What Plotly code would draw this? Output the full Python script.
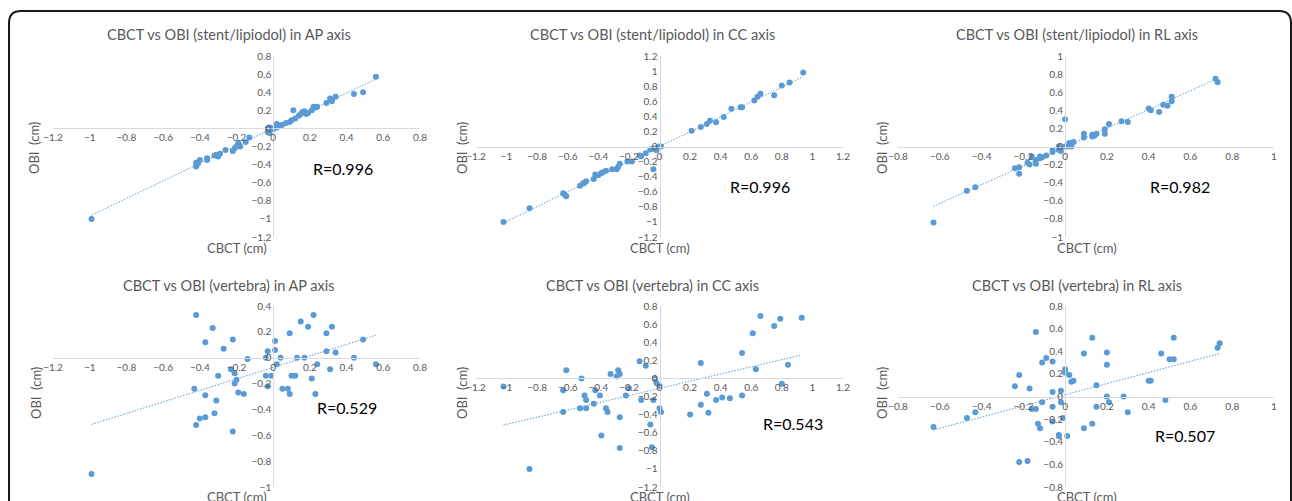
import numpy as np
import plotly.graph_objects as go

W, H = 1292, 501

# ---------------- data (cm) ----------------
ap_stent_x = [0.56, 0.49, 0.44, 0.34, 0.32, 0.31, 0.32, 0.29, 0.24, 0.22, 0.23, 0.21, 0.19, 0.18,
              0.16, 0.17, 0.15, 0.14, 0.11, 0.12, 0.10, 0.09, 0.07, 0.05, 0.04, 0.02, 0.02, 0.00,
              -0.02, -0.03, -0.03, -0.02, 0.00, -0.13, -0.15, -0.18, -0.19, -0.20, -0.21, -0.19,
              -0.22, -0.26, -0.29, -0.30, -0.32, -0.31, -0.36, -0.36, -0.40, -0.42, -0.42, -0.41, -0.99]
ap_stent_y = [0.57, 0.40, 0.38, 0.35, 0.31, 0.33, 0.30, 0.28, 0.24, 0.24, 0.23, 0.20, 0.17, 0.16,
              0.18, 0.19, 0.16, 0.14, 0.20, 0.11, 0.09, 0.07, 0.06, 0.04, 0.03, 0.05, 0.01, 0.00,
              0.01, 0.00, -0.04, -0.05, -0.01, -0.10, -0.15, -0.20, -0.17, -0.20, -0.22, -0.16,
              -0.25, -0.24, -0.28, -0.31, -0.30, -0.29, -0.33, -0.35, -0.35, -0.38, -0.42, -0.39, -1.00]

cc_stent_x = [0.94, 0.85, 0.80, 0.75, 0.66, 0.64, 0.62, 0.54, 0.53, 0.47, 0.42, 0.37, 0.33, 0.31,
              0.27, 0.21, 0.01, 0.00, -0.02, -0.02, -0.04, -0.06, -0.04, -0.09, -0.12, -0.13,
              -0.18, -0.21, -0.26, -0.27, -0.28, -0.31, -0.35, -0.37, -0.38, -0.40, -0.42, -0.43,
              -0.48, -0.49, -0.50, -0.52, -0.63, -0.61, -0.62, -0.85, -1.02]
cc_stent_y = [0.98, 0.85, 0.81, 0.68, 0.70, 0.66, 0.61, 0.52, 0.52, 0.50, 0.39, 0.32, 0.34, 0.30,
              0.26, 0.21, 0.00, 0.00, -0.02, -0.05, -0.03, -0.04, -0.30, -0.09, -0.13, -0.12,
              -0.20, -0.20, -0.23, -0.27, -0.30, -0.30, -0.32, -0.34, -0.35, -0.38, -0.37, -0.43,
              -0.46, -0.48, -0.49, -0.52, -0.62, -0.66, -0.64, -0.82, -1.00]

rl_stent_x = [0.72, 0.73, 0.51, 0.51, 0.47, 0.49, 0.45, 0.40, 0.41, 0.27, 0.30, 0.21, 0.19, 0.19,
              0.15, 0.13, 0.13, 0.14, 0.09, 0.09, 0.00, 0.04, 0.02, 0.03, 0.01, 0.00, -0.03, -0.03,
              -0.02, -0.06, -0.06, -0.09, -0.11, -0.12, -0.12, -0.14, -0.14, -0.16, -0.17, -0.18,
              -0.22, -0.24, -0.22, -0.43, -0.47, -0.63]
rl_stent_y = [0.75, 0.71, 0.55, 0.50, 0.46, 0.45, 0.38, 0.42, 0.40, 0.28, 0.27, 0.25, 0.19, 0.14,
              0.14, 0.13, 0.11, 0.12, 0.14, 0.10, 0.30, 0.05, 0.04, 0.00, 0.00, 0.00, 0.00, -0.04,
              -0.05, -0.04, -0.06, -0.10, -0.12, -0.11, -0.13, -0.15, -0.19, -0.11, -0.20, -0.18,
              -0.23, -0.24, -0.30, -0.45, -0.49, -0.84]

ap_vert_x = [-0.42, -0.33, -0.37, -0.22, -0.27, -0.14, -0.23, -0.21, -0.30, -0.20, -0.21, -0.19,
             -0.16, -0.43, -0.37, -0.31, -0.32, -0.37, -0.40, -0.42, -0.22, -0.99, -0.04, -0.03,
             -0.04, -0.03, -0.01, 0.01, 0.01, 0.02, 0.04, 0.05, 0.08, 0.09, 0.09, 0.10, 0.12, 0.13,
             0.17, 0.15, 0.19, 0.22, 0.21, 0.23, 0.24, 0.29, 0.29, 0.32, 0.31, 0.34, 0.44, 0.49, 0.56]
ap_vert_y = [0.33, 0.23, 0.12, 0.14, 0.07, -0.01, -0.09, -0.12, -0.14, -0.17, -0.20, -0.27,
             -0.28, -0.24, -0.29, -0.33, -0.43, -0.46, -0.47, -0.52, -0.57, -0.90, 0.00, 0.05,
             -0.14, -0.22, -0.14, 0.13, 0.06, -0.05, 0.00, -0.24, -0.24, -0.28, 0.19, -0.14, -0.14,
             0.00, 0.00, 0.28, 0.24, 0.33, -0.16, -0.28, -0.05, 0.19, 0.05, 0.24, -0.09, 0.04,
             0.00, 0.14, -0.05]

cc_vert_x = [-1.02, -0.85, -0.61, -0.63, -0.63, -0.51, -0.49, -0.48, -0.52, -0.48, -0.43, -0.42,
             -0.39, -0.38, -0.35, -0.34, -0.32, -0.27, -0.28, -0.26, -0.26, -0.26, -0.22, -0.20,
             -0.13, -0.09, -0.12, -0.06, -0.05, -0.04, -0.03, -0.02, 0.00, 0.00, 0.01, 0.20, 0.27,
             0.27, 0.31, 0.32, 0.37, 0.41, 0.46, 0.54, 0.54, 0.61, 0.63, 0.66, 0.75, 0.79, 0.80,
             0.84, 0.93]
cc_vert_y = [-0.09, -1.00, 0.09, -0.13, -0.37, 0.00, -0.19, -0.24, -0.33, -0.33, -0.28, -0.13,
             -0.19, -0.63, -0.33, -0.37, 0.05, 0.09, 0.02, 0.05, -0.43, -0.77, -0.19, -0.11,
             0.19, 0.14, -0.24, -0.51, -0.76, -0.24, 0.00, -0.05, -0.08, -0.33, -0.37, -0.40,
             0.17, -0.29, -0.17, -0.38, -0.24, -0.21, -0.22, 0.28, -0.19, 0.50, 0.10, 0.69, 0.58,
             0.66, -0.06, 0.15, 0.67]

rl_vert_x = [-0.63, -0.47, -0.43, -0.24, -0.22, -0.17, -0.16, -0.14, -0.22, -0.18, -0.14, -0.11,
             -0.09, -0.06, -0.11, -0.13, -0.12, -0.06, -0.06, -0.06, -0.03, -0.03, 0.01, -0.02,
             -0.02, -0.01, 0.00, 0.00, 0.02, 0.03, 0.04, 0.09, 0.09, 0.13, 0.13, 0.15, 0.15, 0.20,
             0.20, 0.20, 0.21, 0.28, 0.30, 0.40, 0.41, 0.46, 0.48, 0.50, 0.52, 0.52, 0.73, 0.74]
rl_vert_y = [-0.27, -0.19, -0.14, 0.09, 0.19, 0.07, -0.11, -0.11, -0.58, -0.57, 0.57, 0.30,
             0.34, 0.31, -0.05, -0.24, -0.28, 0.04, -0.09, -0.22, -0.34, -0.35, -0.35, 0.05,
             -0.05, -0.19, 0.24, 0.21, 0.19, 0.13, 0.14, 0.38, -0.28, 0.52, -0.24, 0.10, -0.09,
             0.39, 0.28, 0.00, -0.05, 0.00, -0.14, 0.14, 0.14, 0.38, -0.03, 0.33, 0.33, 0.52,
             0.43, 0.47]

titles = ["CBCT vs OBI (stent/lipiodol) in AP axis", "CBCT vs OBI (stent/lipiodol) in CC axis",
          "CBCT vs OBI (stent/lipiodol) in RL axis", "CBCT vs OBI (vertebra) in AP axis",
          "CBCT vs OBI (vertebra) in CC axis", "CBCT vs OBI (vertebra) in RL axis"]
r_labels = ["R=0.996", "R=0.996", "R=0.982", "R=0.529", "R=0.543", "R=0.507"]
x_ranges = [[-1.2, 0.8], [-1.2, 1.2], [-0.8, 1.0], [-1.2, 0.8], [-1.2, 1.2], [-0.8, 1.0]]
y_ranges = [[-1.2, 0.8], [-1.2, 1.2], [-1.0, 1.0], [-1.0, 0.4], [-1.2, 0.8], [-0.8, 0.8]]

series = [(ap_stent_x, ap_stent_y), (cc_stent_x, cc_stent_y), (rl_stent_x, rl_stent_y),
          (ap_vert_x, ap_vert_y), (cc_vert_x, cc_vert_y), (rl_vert_x, rl_vert_y)]

# ---------------- layout geometry (pixels) ----------------
x_px = [[53, 420], [476, 843], [898, 1274], [53, 420], [476, 843], [898, 1274]]
y_px = [[56, 237], [56, 237], [56, 237], [306, 487], [306, 487], [306, 487]]
title_pos = [(229, 35), (653, 35), (1077, 35), (229, 285), (653, 285), (1077, 285)]
ytitle_pos = [(34, 148), (462, 148), (882, 148), (36, 393), (462, 393), (882, 393)]
xtitle_pos = [(237, 248), (660, 248), (1087, 248), (237, 497), (660, 497), (1087, 497)]
r_pos = [(343, 168), (760, 186), (1180, 186), (347, 407), (793, 423), (1185, 435)]

BLUE = "#5B9BD5"
GREY = "#595959"
FONT = "Lato"


def px(x):
    return x / W


def py(y):
    return 1 - y / H


def note(pos, text, size, color, angle=0):
    return dict(x=px(pos[0]), y=py(pos[1]), text=text, textangle=angle, showarrow=False,
                xref="paper", yref="paper", xanchor="center", yanchor="middle",
                font=dict(family=FONT, size=size, color=color))


fig = go.Figure()
annotations = []
for i, ((xs, ys), xr, yr) in enumerate(zip(series, x_ranges, y_ranges)):
    n = i + 1
    xa = "x" if n == 1 else f"x{n}"
    ya = "y" if n == 1 else f"y{n}"
    xs_a = np.array(xs)
    ys_a = np.array(ys)
    slope, inter = np.polyfit(xs_a, ys_a, 1)
    tx = np.array([xs_a.min(), xs_a.max()])
    fig.add_trace(go.Scatter(x=tx, y=slope * tx + inter, mode="lines", xaxis=xa, yaxis=ya,
                             line=dict(color=BLUE, width=1, dash="1.5px,1.5px"),
                             hoverinfo="skip", showlegend=False))
    fig.add_trace(go.Scatter(x=xs, y=ys, mode="markers", xaxis=xa, yaxis=ya,
                             marker=dict(color=BLUE, size=6), showlegend=False))

    xd = [px(x_px[i][0]), px(x_px[i][1])]
    yd = [py(y_px[i][1]), py(y_px[i][0])]
    x0 = xd[0] + (0 - xr[0]) / (xr[1] - xr[0]) * (xd[1] - xd[0])
    y0 = yd[0] + (0 - yr[0]) / (yr[1] - yr[0]) * (yd[1] - yd[0])
    common = dict(showgrid=False, zeroline=False, showline=True, linecolor="#d9d9d9",
                  linewidth=1, ticks="", dtick=0.2, tick0=0, automargin=False,
                  tickfont=dict(family=FONT, size=10, color=GREY))
    fig.layout[f"xaxis{'' if n == 1 else n}"] = dict(domain=xd, range=xr, anchor="free",
                                                       position=y0, **common)
    fig.layout[f"yaxis{'' if n == 1 else n}"] = dict(domain=yd, range=yr, anchor="free",
                                                       position=x0, **common)

    annotations.append(note(title_pos[i], titles[i], 14.5, GREY))
    annotations.append(note(ytitle_pos[i], "OBI  (cm)", 13, GREY, -90))
    annotations.append(note(xtitle_pos[i], "CBCT (cm)", 13, GREY))
    annotations.append(note(r_pos[i], r_labels[i], 16, "#000000"))

# outer rounded border (top corners), continues past the bottom edge
L, T, R, RAD = 9, 11, 1291, 12
path = (f"M {px(L)},{py(H + 20)} L {px(L)},{py(T + RAD)} Q {px(L)},{py(T)} {px(L + RAD)},{py(T)} "
        f"L {px(R - RAD)},{py(T)} Q {px(R)},{py(T)} {px(R)},{py(T + RAD)} L {px(R)},{py(H + 20)}")

fig.update_layout(width=W, height=H, margin=dict(l=0, r=0, t=0, b=0, autoexpand=False),
                  paper_bgcolor="white", plot_bgcolor="white", annotations=annotations,
                  shapes=[dict(type="path", path=path, xref="paper", yref="paper",
                               line=dict(color="#1a1a1a", width=2))])
fig.write_html("out.html", config={"displayModeBar": False},
               post_script="document.body.style.margin='0';document.body.style.overflow='hidden';")
